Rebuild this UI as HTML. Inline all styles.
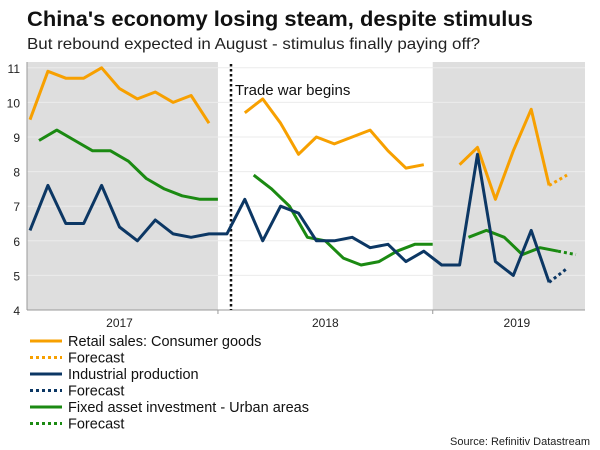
<!DOCTYPE html>
<html><head><meta charset="utf-8"><style>
html,body{margin:0;padding:0;background:#fff;}
svg{display:block;font-family:"Liberation Sans",Arial,sans-serif;}
</style></head><body>
<svg id="chart" width="600" height="450" viewBox="0 0 600 450" xmlns="http://www.w3.org/2000/svg">
<text x="27" y="26" font-size="21" font-weight="bold" fill="#111" textLength="506" lengthAdjust="spacingAndGlyphs">China's economy losing steam, despite stimulus</text>
<text x="27" y="49" font-size="16" fill="#222" textLength="453" lengthAdjust="spacingAndGlyphs">But rebound expected in August - stimulus finally paying off?</text>
<g id="plot"></g>
<g id="legend"></g>
<text x="590" y="445" font-size="11" fill="#222" text-anchor="end">Source: Refinitiv Datastream</text>
</svg>
<script>
// month index 0 = Feb 2017
const yTicks = [4,5,6,7,8,9,10,11];
const yearLabels = ["2017","2018","2019"];
const yearCenters = [5, 16.5, 27.2]; // month index positions of year labels
const shadeRanges = [[-0.2,10.5],[22.5,31.2]];
const retail1 = [9.5,10.9,10.7,10.7,11.0,10.4,10.1,10.3,10.0,10.2,9.4];
const retail2 = [9.7,10.1,9.4,8.5,9.0,8.8,9.0,9.2,8.6,8.1,8.2];
const retail3 = [8.2,8.7,7.2,8.6,9.8,7.6];
const retailFc = [7.6,7.9];
const ip = [6.3,7.6,6.5,6.5,7.6,6.4,6.0,6.6,6.2,6.1,6.2,6.2,7.2,6.0,7.0,6.8,6.0,6.0,6.1,5.8,5.9,5.4,5.7,5.3,5.3,8.5,5.4,5.0,6.3,4.8];
const ipFc = [4.8,5.2];
const fai1 = [8.9,9.2,8.9,8.6,8.6,8.3,7.8,7.5,7.3,7.2,7.2];
const fai2 = [7.9,7.5,7.0,6.1,6.0,5.5,5.3,5.4,5.7,5.9,5.9];
const fai3 = [6.1,6.3,6.1,5.6,5.8,5.7];
const faiFc = [5.7,5.6];

const NS="http://www.w3.org/2000/svg";
const X0=30, DX=17.9, Y4=310, DY=34.6;
const xs = i => X0 + i*DX;
const ys = v => Y4 - (v-4)*DY;
const plot=document.getElementById('plot');
function mk(tag, attrs, parent){const e=document.createElementNS(NS,tag);for(const k in attrs)e.setAttribute(k,attrs[k]);(parent||plot).appendChild(e);return e;}

shadeRanges.forEach(r=>{
  const e=mk('rect',{x:Math.max(27,xs(r[0])),y:62,width:Math.min(585,xs(r[1]))-Math.max(27,xs(r[0])),height:Y4-62,fill:'#dedede'});
  
  
});
yTicks.forEach(t=>{
  const g=mk('line',{x1:27,x2:585,y1:ys(t),y2:ys(t),stroke:t===4?'#999':'#ebebeb','stroke-width':1});
  
  
  const l=mk('text',{x:20,y:ys(t)+5,'font-size':12,'text-anchor':'end',fill:'#222'});
  l.textContent=t;
  
  
});
const ax=mk('line',{x1:27,x2:27,y1:62,y2:Y4,stroke:'#999'});


[10.5,22.5].forEach(b=>{
  const t=mk('line',{x1:xs(b),x2:xs(b),y1:Y4,y2:Y4+4,stroke:'#999'});
  
  
});
yearLabels.forEach((y,i)=>{
  const l=mk('text',{x:xs(yearCenters[i]),y:327,'font-size':12,'text-anchor':'middle',fill:'#222'});
  l.textContent=y;
  
  
});
const tw=mk('line',{x1:231,x2:231,y1:64,y2:Y4,stroke:'#111','stroke-width':2.5,'stroke-dasharray':'2.5 2.5'});


const twl=mk('text',{x:235,y:95,'font-size':15,fill:'#111'});
twl.textContent='Trade war begins';



function line(vals,start,color,name,dashed){
  const pts=vals.map((v,i)=>xs(start+i).toFixed(1)+','+ys(v).toFixed(1)).join(' ');
  const e=mk('polyline',{points:pts,fill:'none',stroke:color,'stroke-width':3,'stroke-linejoin':'round'});
  if(dashed)e.setAttribute('stroke-dasharray','3 3');
  
  
}
const OR='#f7a000', NV='#0c3764', GR='#1b8a12';
line(fai1,0.5,GR,'fai-line-2017');
line(fai2,12.5,GR,'fai-line-2018');
line(fai3,24.5,GR,'fai-line-2019');
line(faiFc,29.5,GR,'fai-forecast',true);
line(retail1,0,OR,'retail-line-2017');
line(retail2,12,OR,'retail-line-2018');
line(retail3,24,OR,'retail-line-2019');
line(retailFc,29,OR,'retail-forecast',true);
line(ip,0,NV,'ip-line');
line(ipFc,29,NV,'ip-forecast',true);

const legendItems=[["Retail sales: Consumer goods",OR,false],["Forecast",OR,true],["Industrial production",NV,false],["Forecast",NV,true],["Fixed asset investment - Urban areas",GR,false],["Forecast",GR,true]];
const lg=document.getElementById('legend');
legendItems.forEach((it,i)=>{
  const y=341+i*16.5;
  const g=mk('g',{},lg);
  
  
  const l=mk('line',{x1:30,x2:62,y1:y,y2:y,stroke:it[1],'stroke-width':3},g);
  if(it[2])l.setAttribute('stroke-dasharray','3 3');
  const t=mk('text',{x:68,y:y+5,'font-size':14.5,fill:'#111'},g);
  t.textContent=it[0];
});
</script>
</body></html>
